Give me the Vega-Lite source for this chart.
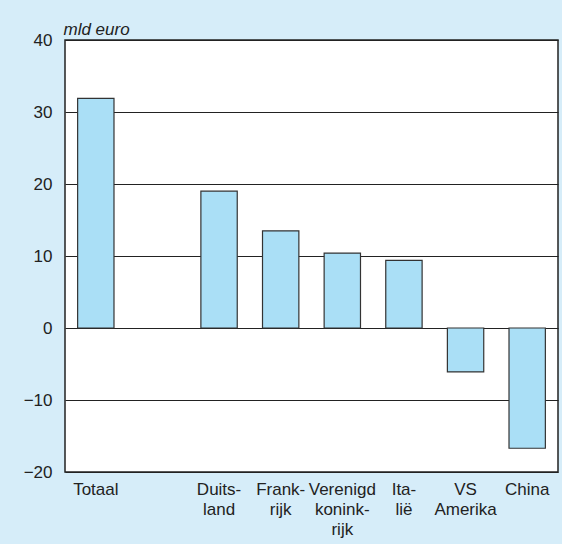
{
  "$schema": "https://vega.github.io/schema/vega-lite/v6.json",
  "width": 493,
  "height": 432,
  "autosize": {"type": "none"},
  "padding": {"left": 65, "top": 40, "right": 4, "bottom": 72},
  "background": "#d6edf9",
  "config": {
    "font": "Liberation Sans",
    "view": {"stroke": "#222222", "strokeWidth": 1.5, "fill": "white"},
    "axis": {"labelFont": "Liberation Sans", "labelColor": "#222222", "labelFontSize": 17, "ticks": false, "domain": false}
  },
  "data": {
    "values": [
      {"land": "Totaal", "value": 31.9},
      {"land": "Duits-|land", "value": 19.0},
      {"land": "Frank-|rijk", "value": 13.5},
      {"land": "Verenigd|konink-|rijk", "value": 10.4},
      {"land": "Ita-|lië", "value": 9.4},
      {"land": "VS|Amerika", "value": -6.1},
      {"land": "China", "value": -16.7}
    ]
  },
  "mark": {"type": "bar", "color": "#aadff6", "stroke": "#333333", "strokeWidth": 1.2},
  "encoding": {
    "x": {
      "field": "land",
      "type": "nominal",
      "sort": null,
      "scale": {
        "domain": ["Totaal", "leeg", "Duits-|land", "Frank-|rijk", "Verenigd|konink-|rijk", "Ita-|lië", "VS|Amerika", "China"],
        "paddingInner": 0.41,
        "paddingOuter": 0.205
      },
      "axis": {
        "title": null,
        "labelAngle": 0,
        "labelPadding": 9,
        "labelLineHeight": 20,
        "labelBaseline": "top",
        "labelExpr": "datum.label == 'leeg' ? '' : split(datum.label, '|')",
        "grid": false
      }
    },
    "y": {
      "field": "value",
      "type": "quantitative",
      "scale": {"domain": [-20, 40], "nice": false},
      "axis": {
        "values": [-20, -10, 0, 10, 20, 30, 40],
        "labelExpr": "replace(datum.label, '-', '−')",
        "labelPadding": 13,
        "grid": true,
        "gridColor": "#222222",
        "gridWidth": 1.2,
        "title": "mld euro",
        "titleAngle": 0,
        "titleAlign": "left",
        "titleBaseline": "alphabetic",
        "titleX": -2,
        "titleY": -6,
        "titleFont": "Liberation Sans",
        "titleFontStyle": "italic",
        "titleFontWeight": "normal",
        "titleFontSize": 17,
        "titleColor": "#222222"
      }
    }
  }
}
